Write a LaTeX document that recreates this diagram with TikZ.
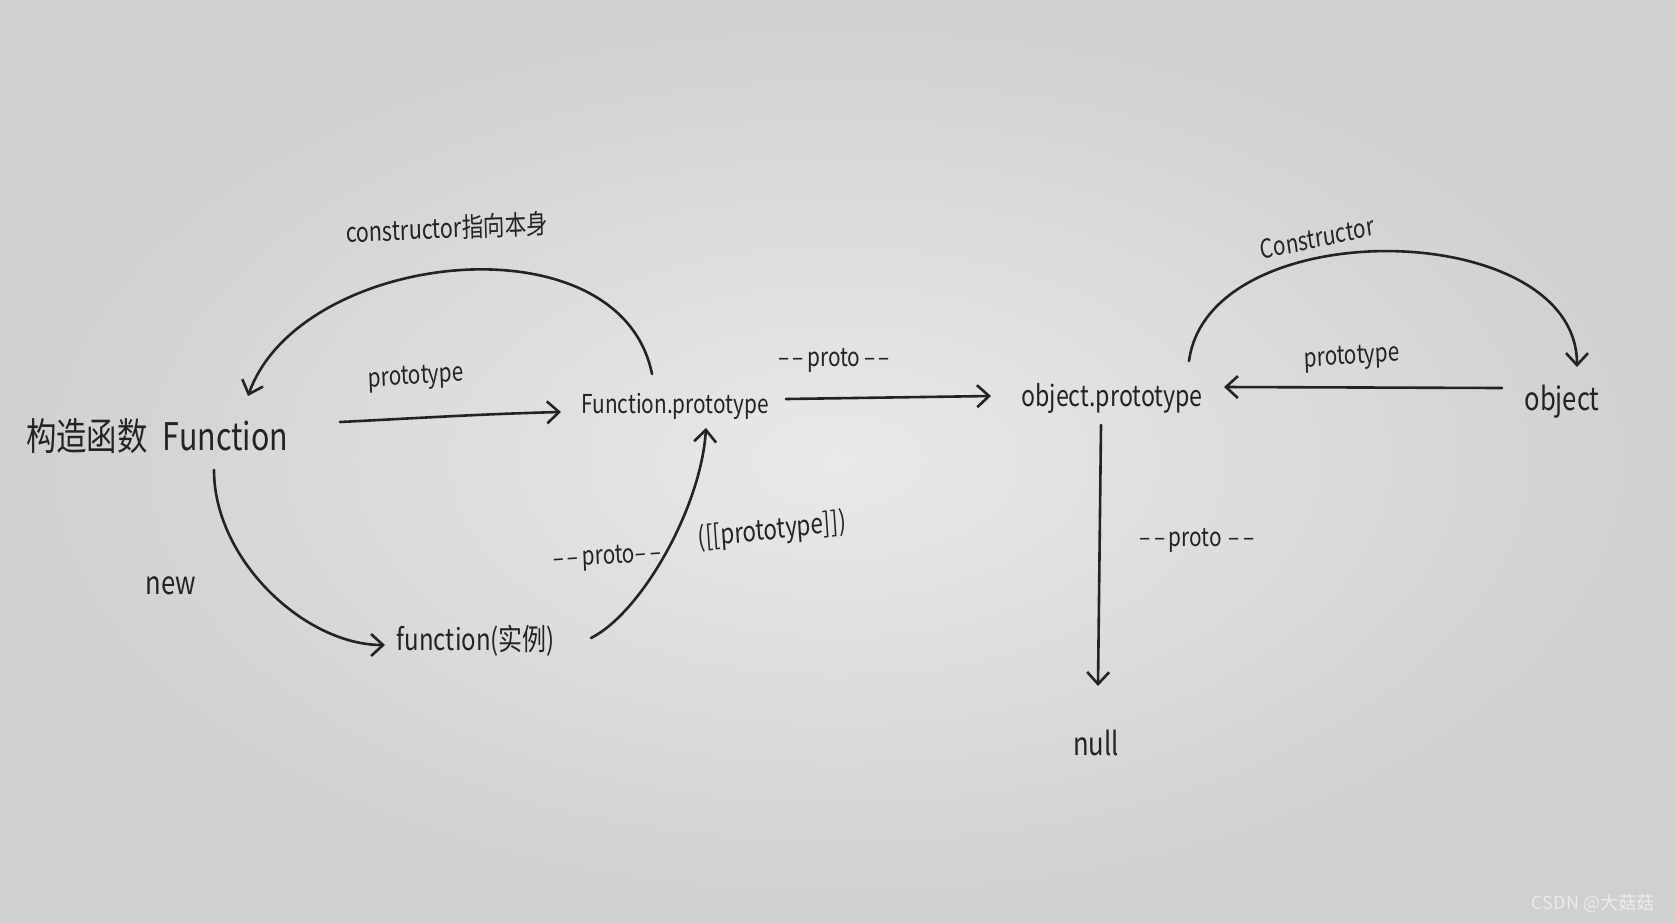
\documentclass[tikz,border=0pt]{standalone}
\usepackage{fontspec}
\setmainfont{Noto Sans CJK SC}
\usepackage{tikz}
\usetikzlibrary{arrows.meta}

\definecolor{ink}{HTML}{232323}
\definecolor{paperhi}{HTML}{E9E9E9}
\definecolor{paperlo}{HTML}{D0D0D0}

\tikzset{
  hand/.style={inner sep=0pt, text=ink, xscale=0.8},
  arr/.style={draw=ink, line width=1.3pt, line cap=round, -{Straight Barb[length=6pt,width=11pt]}},
}

\begin{document}
\begin{tikzpicture}[x=0.5pt,y=-0.5pt]
\shade[inner color=paperhi,outer color=paperlo] (0,0) rectangle (1676,922);
\useasboundingbox (0,0) rectangle (1676,922);

% main nodes
\node[hand,font=\fontsize{19}{19}\selectfont] (ctor) at (157,436) {构造函数\hspace{0.5em}Function};
\node[hand,font=\fontsize{13}{13}\selectfont] (fp) at (675,406) {Function.prototype};
\node[hand,font=\fontsize{14.5}{14.5}\selectfont] (op) at (1112,398) {object.prototype};
\node[hand,font=\fontsize{16}{16}\selectfont] (obj) at (1562,402) {object};
\node[hand,font=\fontsize{15}{15}\selectfont] (inst) at (476,641) {function(实例)};
\node[hand,font=\fontsize{16}{16}\selectfont] (null) at (1096,743) {null};

% labels
\node[hand,font=\fontsize{16}{16}\selectfont] (lnew) at (171,586) {new};
\node[hand,font=\fontsize{13}{13}\selectfont,rotate=3] (lproto) at (416,378) {prototype};
\node[hand,font=\fontsize{13.5}{13.5}\selectfont,rotate=2] (lctor) at (447,228) {constructor指向本身};
\node[hand,font=\fontsize{13}{13}\selectfont] (lfpop) at (834,360) {–\,–\,proto\,–\,–};
\node[hand,font=\fontsize{13}{13}\selectfont,rotate=3] (linst) at (607,558) {–\,–\,proto–\,–};
\node[hand,font=\fontsize{14}{14}\selectfont,rotate=5] (lbrack) at (772,531) {([[prototype]])};
\node[hand,font=\fontsize{13}{13}\selectfont,rotate=10] (rctor) at (1317,238) {Constructor};
\node[hand,font=\fontsize{13}{13}\selectfont,rotate=3] (rproto) at (1352,358) {prototype};
\node[hand,font=\fontsize{13}{13}\selectfont] (lnull) at (1197,540) {–\,–\,proto\,\,–\,–};

% connectors
\draw[arr] ([shift={(183,-14)}]ctor.center) .. controls +(80,-4) and +(-80,2) .. ([shift={(-114,6)}]fp.center);
\draw[arr] ([shift={(111,-7)}]fp.center) -- ([shift={(-121,-2)}]op.center);
\draw[arr] ([shift={(-60,-14)}]obj.center) -- ([shift={(112,-11)}]op.center);
\draw[arr] ([shift={(-11,27)}]op.center) -- ([shift={(2,-57)}]null.center);
\draw[arr] ([shift={(-23,-32)}]fp.center) .. controls +(-32,-159) and +(52,-146) .. ([shift={(91,-40)}]ctor.center);
\draw[arr] ([shift={(77,-37)}]op.center) .. controls +(20,-150) and +(0,-150) .. ([shift={(15,-35)}]obj.center);
\draw[arr] ([shift={(57,34)}]ctor.center) .. controls +(0,90) and +(-80,0) .. ([shift={(-91,4)}]inst.center);
\draw[arr] ([shift={(115,-3)}]inst.center) .. controls +(50,-25) and +(-5,80) .. ([shift={(31,22)}]fp.center);

% watermark
\node[font=\fontsize{9}{9}\selectfont,text=white!85!gray] (mark) at (1593,903) {CSDN @大菇菇};
\end{tikzpicture}
\end{document}
